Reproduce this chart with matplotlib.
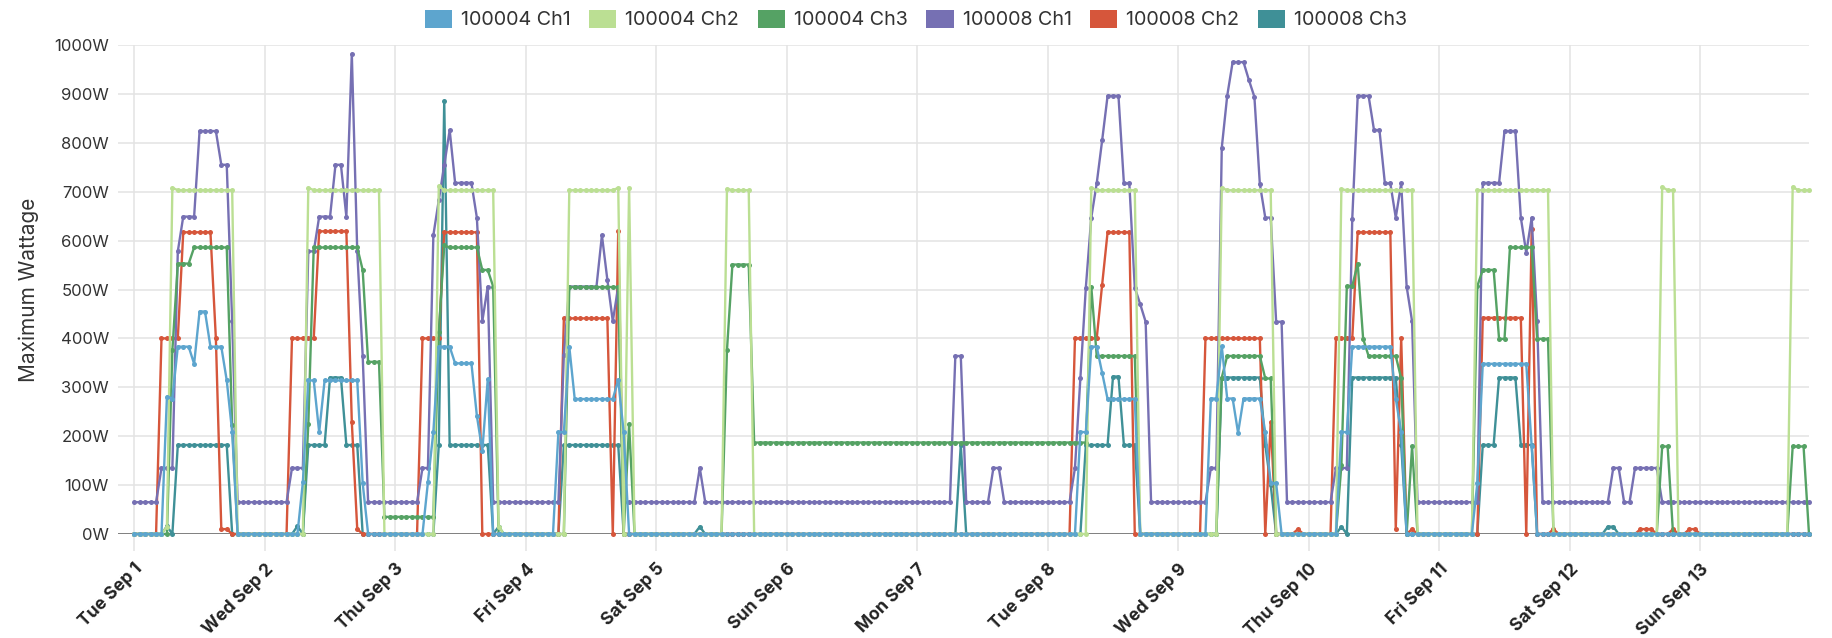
import numpy as np
import pandas as pd
import matplotlib
matplotlib.use("Agg")
import matplotlib.pyplot as plt
import matplotlib.dates as mdates
from matplotlib.patches import Patch

plt.rcParams['font.family'] = ['Inter', 'DejaVu Sans']

# hourly readings, Tue Sep 1 00:00 .. Sun Sep 13 20:00
n_hours = 309
times = pd.date_range('2020-09-01 00:00', periods=n_hours, freq='h')

# each series: resting value + (start hour, readings) where it differs
ch1_100004_base = 0
ch1_100004_runs = [
    (6, [281, 277, 383, 383, 383, 348, 455, 455, 383, 383, 383, 314, 208]),
    (31, [106, 314, 314, 208, 314, 314, 314, 314, 314, 314, 314, 104]),
    (54, [106, 209, 383, 383, 383, 349, 349, 349, 349, 242, 170, 316]),
    (78, [209, 208, 383, 276, 276, 276, 276, 276, 276, 276, 276, 315, 208]),
    (174, [209, 208, 383, 383, 330, 276, 276, 276, 276, 276, 276]),
    (198, [277, 277, 384, 277, 277, 207, 277, 277, 277, 277, 208, 104, 104]),
    (222, [209, 208, 383, 383, 383, 383, 383, 383, 383, 383, 277, 208]),
    (247, [104, 348, 348, 348, 348, 348, 348, 348, 348, 348, 179]),
]
ch2_100004_base = 0
ch2_100004_runs = [
    (6, [15, 708, 703, 703, 703, 703, 703, 703, 703, 703, 703, 703, 703]),
    (32, [708, 703, 703, 703, 703, 703, 703, 703, 703, 703, 703, 703, 703, 703]),
    (56, [712, 703, 703, 703, 703, 703, 703, 703, 703, 703, 703, 15]),
    (80, [703, 703, 703, 703, 703, 703, 703, 703, 703, 708, 0, 708]),
    (109, [706, 703, 703, 703, 703]),
    (176, [708, 703, 703, 703, 703, 703, 703, 703, 703]),
    (200, [708, 703, 703, 703, 703, 703, 703, 703, 703, 703]),
    (222, [705, 703, 703, 703, 703, 703, 703, 703, 703, 703, 703, 703, 703, 703]),
    (247, [703, 703, 703, 703, 703, 703, 703, 703, 703, 703, 703, 703, 703, 703]),
    (281, [710, 703, 703]),
    (305, [710, 703, 703, 703]),
]
ch3_100004_base = 0
ch3_100004_runs = [
    (7, [376, 553, 553, 553, 586, 586, 586, 586, 586, 586, 586, 222]),
    (32, [224, 586, 586, 586, 586, 586, 586, 586, 586, 586, 540, 352, 352, 352,
          35, 35, 35, 35, 35, 35, 35, 35, 35, 35]),
    (56, [414, 590, 586, 586, 586, 586, 586, 586, 540, 540, 506]),
    (80, [505, 505, 505, 505, 505, 505, 505, 505, 505, 505, 0, 224]),
    (109, [376, 551, 551, 551, 551] + [187] * 62),
    (176, [506, 364, 364, 364, 364, 364, 364, 364, 364]),
    (200, [320, 364, 364, 364, 364, 364, 364, 364, 318, 318]),
    (222, [141, 507, 507, 553, 399, 364, 364, 364, 364, 364, 364, 318, 0, 179]),
    (247, [507, 540, 540, 540, 399, 399, 586, 586, 586, 586, 586, 399, 399, 399]),
    (281, [179, 179]),
    (305, [179, 179, 179]),
]
ch1_100008_base = 65
ch1_100008_runs = [
    (5, [135, 135, 135, 578, 649, 649, 649, 824, 824, 824, 824, 755, 755, 435]),
    (29, [135, 135, 135, 578, 578, 649, 649, 649, 755, 755, 649, 982, 578, 365]),
    (53, [135, 135, 611, 683, 755, 826, 718, 718, 718, 718, 647, 435, 506]),
    (79, [366, 506, 506, 506, 506, 506, 506, 611, 520, 435, 506]),
    (104, [135]),
    (151, [364, 364]),
    (158, [135, 135]),
    (173, [135, 320, 504, 647, 717, 805, 896, 896, 896, 717, 717, 504, 470, 434]),
    (198, [135, 135, 790, 896, 965, 965, 965, 928, 894, 716, 647, 647, 434, 434]),
    (221, [135, 135, 135, 645, 896, 896, 896, 826, 826, 717, 717, 647, 717, 506, 435]),
    (248, [718, 718, 718, 718, 824, 824, 824, 647, 575, 647, 435]),
    (272, [135, 135]),
    (276, [135, 135, 135, 135, 135]),
]
ch2_100008_base = 0
ch2_100008_runs = [
    (5, [400, 400, 400, 400, 617, 617, 617, 617, 617, 617, 400, 10, 10]),
    (29, [400, 400, 400, 400, 400, 619, 619, 619, 619, 619, 619, 229, 10]),
    (53, [400, 400, 400, 400, 617, 617, 617, 617, 617, 617, 617]),
    (79, [441, 441, 441, 441, 441, 441, 441, 441, 441, 0, 619]),
    (173, [400, 400, 400, 400, 400, 510, 617, 617, 617, 617, 617]),
    (197, [400, 400, 400, 400, 400, 400, 400, 400, 400, 400, 400, 0, 229]),
    (214, [10]),
    (221, [400, 400, 400, 400, 617, 617, 617, 617, 617, 617, 617, 10, 400, 0, 10]),
    (248, [442, 442, 442, 442, 442, 442, 442, 442, 0, 623]),
    (261, [10]),
    (277, [10, 10, 10]),
    (283, [10]),
    (286, [10, 10]),
]
ch3_100008_base = 0
ch3_100008_runs = [
    (6, [16, 0, 182, 182, 182, 182, 182, 182, 182, 182, 182, 182]),
    (30, [16, 0, 182, 182, 182, 182, 320, 320, 320, 182, 182, 182]),
    (56, [182, 886, 182, 182, 182, 182, 182, 182, 182, 182, 0, 15]),
    (79, [182, 182, 182, 182, 182, 182, 182, 182, 182, 182, 182]),
    (104, [15]),
    (152, [182]),
    (175, [182, 182, 182, 182, 182, 322, 322, 182, 182, 182]),
    (200, [320, 320, 320, 320, 320, 320, 320, 320, 182, 100]),
    (222, [15, 0, 320, 320, 320, 320, 320, 320, 320, 320, 320, 182]),
    (248, [182, 182, 182, 320, 320, 320, 320, 182, 182, 182]),
    (271, [15, 15]),
]

labels = ['100004 Ch1', '100004 Ch2', '100004 Ch3', '100008 Ch1', '100008 Ch2', '100008 Ch3']
colors = ['#5da5ce', '#bbdf93', '#55a264', '#7670b3', '#d6563b', '#3f9097']


def build(base, runs):
    vals = np.full(n_hours, base, dtype=float)
    for start, seg in runs:
        vals[start:start + len(seg)] = seg
    return vals


series = [
    build(ch1_100004_base, ch1_100004_runs),
    build(ch2_100004_base, ch2_100004_runs),
    build(ch3_100004_base, ch3_100004_runs),
    build(ch1_100008_base, ch1_100008_runs),
    build(ch2_100008_base, ch2_100008_runs),
    build(ch3_100008_base, ch3_100008_runs),
]

fig = plt.figure(figsize=(18.32, 6.38), dpi=100)
ax = fig.add_axes([118 / 1832, 1 - 534 / 638, (1809 - 118) / 1832, (534 - 45) / 638])

# first legend entry ends up on top
for i in reversed(range(len(series))):
    ax.plot(times, series[i], color=colors[i], lw=1.7, marker='o', ms=3.6,
            mew=0, zorder=3 + (len(series) - i), clip_on=False)

ax.set_ylim(0, 1000)
ax.set_xlim(times[0] - pd.Timedelta(hours=3), times[-1])
ax.set_yticks(np.arange(0, 1001, 100))
ax.set_yticklabels([f'{v}W' for v in range(0, 1001, 100)])
ax.axhline(0, color='#777777', lw=1.3, zorder=2)

ax.xaxis.set_major_locator(mdates.DayLocator())
ax.xaxis.set_major_formatter(mdates.DateFormatter('%a %b %-d'))
ax.grid(True, color='#e3e3e3', lw=1.1, zorder=0)
for s in ax.spines.values():
    s.set_visible(False)
ax.tick_params(axis='y', length=0, labelsize=12, labelcolor='#333333', pad=6.5)
ax.tick_params(axis='x', length=12, color='#e3e3e3', width=1.1, labelsize=12.6,
               labelcolor='#222222', pad=7)
for lab in ax.get_xticklabels():
    lab.set_rotation(45)
    lab.set_ha('right')
    lab.set_va('top')
    lab.set_fontweight('bold')
    lab.set_rotation_mode('anchor')

ax.set_ylabel('Maximum Wattage', fontsize=15, color='#333333')
ax.yaxis.set_label_coords((29 - 118) / 1691, 0.5)
ax.yaxis.label.set_va('center')

handles = [Patch(facecolor=c, edgecolor='none') for c in colors]
fig.legend(handles, labels, loc='center', bbox_to_anchor=(0.5, 1 - 19.5 / 638), ncol=6,
           frameon=False, fontsize=14.2, handlelength=1.37, handleheight=1.07,
           handletextpad=0.46, columnspacing=0.95, labelcolor='#333333',
           borderpad=0, borderaxespad=0)

fig.savefig('out.png', dpi=100)
